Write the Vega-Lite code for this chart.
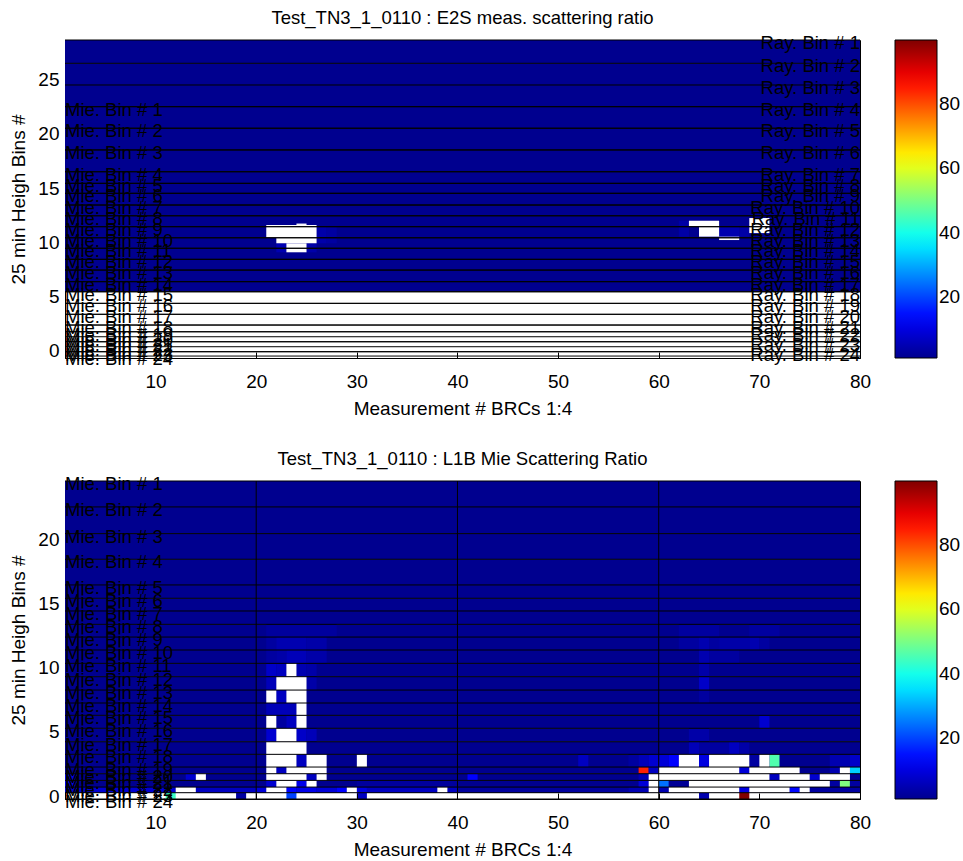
{
"$schema": "https://vega.github.io/schema/vega-lite/v6.json",
"background": "white",
"padding": {"left": 9, "top": 8, "right": 0, "bottom": 0},
"datasets": {
"rayT": [
{"bin":1,"top":28.66,"label":"Ray. Bin # 1"},{"bin":2,"top":26.51,"label":"Ray. Bin # 2"},{"bin":3,"top":24.51,"label":"Ray. Bin # 3"},{"bin":4,"top":22.51,"label":"Ray. Bin # 4"},{"bin":5,"top":20.52,"label":"Ray. Bin # 5"},{"bin":6,"top":18.52,"label":"Ray. Bin # 6"},{"bin":7,"top":16.51,"label":"Ray. Bin # 7"},{"bin":8,"top":15.44,"label":"Ray. Bin # 8"},{"bin":9,"top":14.52,"label":"Ray. Bin # 9"},{"bin":10,"top":13.44,"label":"Ray. Bin # 10"},{"bin":11,"top":12.45,"label":"Ray. Bin # 11"},{"bin":12,"top":11.44,"label":"Ray. Bin # 12"},{"bin":13,"top":10.42,"label":"Ray. Bin # 13"},{"bin":14,"top":9.45,"label":"Ray. Bin # 14"},{"bin":15,"top":8.43,"label":"Ray. Bin # 15"},{"bin":16,"top":7.44,"label":"Ray. Bin # 16"},{"bin":17,"top":6.37,"label":"Ray. Bin # 17"},{"bin":18,"top":5.44,"label":"Ray. Bin # 18"},{"bin":19,"top":4.37,"label":"Ray. Bin # 19"},{"bin":20,"top":3.36,"label":"Ray. Bin # 20"},{"bin":21,"top":2.37,"label":"Ray. Bin # 21"},{"bin":22,"top":1.75,"label":"Ray. Bin # 22"},{"bin":23,"top":0.83,"label":"Ray. Bin # 23"},{"bin":24,"top":-0.09,"label":"Ray. Bin # 24"}
],
"mieT": [
{"bin":1,"top":22.51,"label":"Mie. Bin # 1"},{"bin":2,"top":20.52,"label":"Mie. Bin # 2"},{"bin":3,"top":18.52,"label":"Mie. Bin # 3"},{"bin":4,"top":16.51,"label":"Mie. Bin # 4"},{"bin":5,"top":15.44,"label":"Mie. Bin # 5"},{"bin":6,"top":14.52,"label":"Mie. Bin # 6"},{"bin":7,"top":13.44,"label":"Mie. Bin # 7"},{"bin":8,"top":12.45,"label":"Mie. Bin # 8"},{"bin":9,"top":11.44,"label":"Mie. Bin # 9"},{"bin":10,"top":10.42,"label":"Mie. Bin # 10"},{"bin":11,"top":9.45,"label":"Mie. Bin # 11"},{"bin":12,"top":8.43,"label":"Mie. Bin # 12"},{"bin":13,"top":7.44,"label":"Mie. Bin # 13"},{"bin":14,"top":6.37,"label":"Mie. Bin # 14"},{"bin":15,"top":5.44,"label":"Mie. Bin # 15"},{"bin":16,"top":4.37,"label":"Mie. Bin # 16"},{"bin":17,"top":3.36,"label":"Mie. Bin # 17"},{"bin":18,"top":2.37,"label":"Mie. Bin # 18"},{"bin":19,"top":1.75,"label":"Mie. Bin # 19"},{"bin":20,"top":1.29,"label":"Mie. Bin # 20"},{"bin":21,"top":0.83,"label":"Mie. Bin # 21"},{"bin":22,"top":0.37,"label":"Mie. Bin # 22"},{"bin":23,"top":-0.09,"label":"Mie. Bin # 23"},{"bin":24,"top":-0.49,"label":"Mie. Bin # 24"}
],
"topCells": [
{"top":28.66,"bot":26.51,"m0":1,"m1":80,"v":1},{"top":26.51,"bot":24.51,"m0":1,"m1":80,"v":1},{"top":24.51,"bot":22.51,"m0":1,"m1":80,"v":1},{"top":22.51,"bot":20.52,"m0":1,"m1":80,"v":1},{"top":20.52,"bot":18.52,"m0":1,"m1":80,"v":1},{"top":18.52,"bot":16.51,"m0":1,"m1":80,"v":1},{"top":16.51,"bot":15.44,"m0":1,"m1":80,"v":1},{"top":15.44,"bot":14.52,"m0":1,"m1":80,"v":1},{"top":14.52,"bot":13.44,"m0":1,"m1":80,"v":1},{"top":13.44,"bot":12.45,"m0":1,"m1":80,"v":1},{"top":12.45,"bot":11.44,"m0":1,"m1":80,"v":1},{"top":11.44,"bot":10.42,"m0":1,"m1":80,"v":1},{"top":10.42,"bot":9.45,"m0":1,"m1":80,"v":1},{"top":9.45,"bot":8.43,"m0":1,"m1":80,"v":1},{"top":8.43,"bot":7.44,"m0":1,"m1":80,"v":1},{"top":7.44,"bot":6.37,"m0":1,"m1":80,"v":1},{"top":6.37,"bot":5.44,"m0":1,"m1":80,"v":1},
{"top":11.44,"bot":9.91,"m0":26,"m1":27,"v":4},{"top":11.44,"bot":9.91,"m0":27,"m1":28,"v":3},{"top":9.91,"bot":9.08,"m0":22,"m1":23,"v":5},{"top":9.91,"bot":9.08,"m0":25,"m1":26,"v":4},{"top":11.99,"bot":10.52,"m0":62,"m1":63,"v":3.5},{"top":11.44,"bot":10.52,"m0":66,"m1":68,"v":4.5},{"top":11.44,"bot":10.52,"m0":68,"m1":69,"v":3.5}
],
"topNaN": [
{"top":11.60,"bot":10.40,"m0":21,"m1":26},{"top":10.40,"bot":9.91,"m0":22,"m1":26},{"top":9.91,"bot":9.08,"m0":23,"m1":25},{"top":11.73,"bot":11.60,"m0":24,"m1":25},{"top":11.99,"bot":11.44,"m0":63,"m1":66},{"top":11.44,"bot":10.52,"m0":64,"m1":66},{"top":10.52,"bot":10.21,"m0":66,"m1":68},{"top":12.24,"bot":10.85,"m0":69,"m1":71}
],
"mieB": [
{"bin":1,"top":24.55,"bot":22.53,"label":"Mie. Bin # 1"},{"bin":2,"top":22.53,"bot":20.45,"label":"Mie. Bin # 2"},{"bin":3,"top":20.45,"bot":18.45,"label":"Mie. Bin # 3"},{"bin":4,"top":18.45,"bot":16.45,"label":"Mie. Bin # 4"},{"bin":5,"top":16.45,"bot":15.41,"label":"Mie. Bin # 5"},{"bin":6,"top":15.41,"bot":14.42,"label":"Mie. Bin # 6"},{"bin":7,"top":14.42,"bot":13.38,"label":"Mie. Bin # 7"},{"bin":8,"top":13.38,"bot":12.39,"label":"Mie. Bin # 8"},{"bin":9,"top":12.39,"bot":11.38,"label":"Mie. Bin # 9"},{"bin":10,"top":11.38,"bot":10.34,"label":"Mie. Bin # 10"},{"bin":11,"top":10.34,"bot":9.30,"label":"Mie. Bin # 11"},{"bin":12,"top":9.30,"bot":8.26,"label":"Mie. Bin # 12"},{"bin":13,"top":8.26,"bot":7.25,"label":"Mie. Bin # 13"},{"bin":14,"top":7.25,"bot":6.29,"label":"Mie. Bin # 14"},{"bin":15,"top":6.29,"bot":5.28,"label":"Mie. Bin # 15"},{"bin":16,"top":5.28,"bot":4.23,"label":"Mie. Bin # 16"},{"bin":17,"top":4.23,"bot":3.25,"label":"Mie. Bin # 17"},{"bin":18,"top":3.25,"bot":2.26,"label":"Mie. Bin # 18"},{"bin":19,"top":2.26,"bot":1.74,"label":"Mie. Bin # 19"},{"bin":20,"top":1.74,"bot":1.22,"label":"Mie. Bin # 20"},{"bin":21,"top":1.22,"bot":0.70,"label":"Mie. Bin # 21"},{"bin":22,"top":0.70,"bot":0.26,"label":"Mie. Bin # 22"},{"bin":23,"top":0.26,"bot":-0.23,"label":"Mie. Bin # 23"},{"bin":24,"top":-0.23,"bot":-0.73,"label":"Mie. Bin # 24"}
],
"botCells": [
{"bin":1,"m0":1,"m1":80,"v":1},{"bin":2,"m0":1,"m1":80,"v":1},{"bin":3,"m0":1,"m1":80,"v":1},{"bin":4,"m0":1,"m1":80,"v":1},{"bin":5,"m0":1,"m1":80,"v":1},{"bin":6,"m0":1,"m1":80,"v":1},{"bin":7,"m0":1,"m1":80,"v":1},{"bin":8,"m0":1,"m1":80,"v":1},{"bin":9,"m0":1,"m1":80,"v":1},{"bin":10,"m0":1,"m1":80,"v":1},{"bin":11,"m0":1,"m1":80,"v":1},{"bin":12,"m0":1,"m1":80,"v":1},{"bin":13,"m0":1,"m1":80,"v":1},{"bin":14,"m0":1,"m1":80,"v":1},{"bin":15,"m0":1,"m1":80,"v":1},{"bin":16,"m0":1,"m1":80,"v":1},{"bin":17,"m0":1,"m1":80,"v":1},{"bin":18,"m0":1,"m1":80,"v":1},{"bin":19,"m0":1,"m1":80,"v":1},{"bin":20,"m0":1,"m1":80,"v":1},{"bin":21,"m0":1,"m1":80,"v":1},{"bin":22,"m0":1,"m1":80,"v":1},
{"bin":8,"m0":21,"m1":28,"v":2.5},{"bin":8,"m0":62,"m1":66,"v":2.8},{"bin":8,"m0":69,"m1":72,"v":2.8},
{"bin":9,"m0":21,"m1":22,"v":2.9},{"bin":9,"m0":22,"m1":25,"v":4.6},{"bin":9,"m0":25,"m1":27,"v":3.8},{"bin":9,"m0":62,"m1":64,"v":2.9},{"bin":9,"m0":64,"m1":65,"v":4.6},{"bin":9,"m0":65,"m1":66,"v":2.9},{"bin":9,"m0":66,"m1":69,"v":3.8},{"bin":9,"m0":69,"m1":70,"v":4.6},{"bin":9,"m0":70,"m1":71,"v":2.9},
{"bin":10,"m0":21,"m1":22,"v":2.9},{"bin":10,"m0":22,"m1":23,"v":3.8},{"bin":10,"m0":23,"m1":25,"v":5.5},{"bin":10,"m0":25,"m1":27,"v":3.8},{"bin":10,"m0":64,"m1":65,"v":4.6},{"bin":10,"m0":65,"m1":68,"v":2.9},
{"bin":11,"m0":21,"m1":22,"v":7.3},{"bin":11,"m0":22,"m1":23,"v":6.4},{"bin":11,"m0":24,"m1":25,"v":4.6},{"bin":11,"m0":25,"m1":26,"v":3.8},{"bin":11,"m0":64,"m1":65,"v":3.8},
{"bin":12,"m0":21,"m1":22,"v":5.5},{"bin":12,"m0":25,"m1":26,"v":3.8},{"bin":12,"m0":64,"m1":65,"v":7.3},
{"bin":13,"m0":22,"m1":23,"v":6.4},{"bin":13,"m0":64,"m1":65,"v":2.9},
{"bin":14,"m0":21,"m1":24,"v":5.5},
{"bin":15,"m0":22,"m1":23,"v":2.9},{"bin":15,"m0":23,"m1":24,"v":6.4},{"bin":15,"m0":70,"m1":71,"v":8.2},
{"bin":16,"m0":21,"m1":22,"v":8.2},{"bin":16,"m0":24,"m1":25,"v":7.3},{"bin":16,"m0":25,"m1":26,"v":5.5},{"bin":16,"m0":63,"m1":65,"v":3.8},
{"bin":17,"m0":63,"m1":64,"v":5.5},{"bin":17,"m0":64,"m1":67,"v":2.9},{"bin":17,"m0":67,"m1":68,"v":6.4},{"bin":17,"m0":68,"m1":69,"v":3.8},
{"bin":18,"m0":24,"m1":25,"v":6.4},{"bin":18,"m0":52,"m1":53,"v":6.4},{"bin":18,"m0":57,"m1":58,"v":2.9},{"bin":18,"m0":58,"m1":59,"v":5.5},{"bin":18,"m0":59,"m1":60,"v":8.2},{"bin":18,"m0":60,"m1":61,"v":9},{"bin":18,"m0":61,"m1":62,"v":13.4},{"bin":18,"m0":64,"m1":65,"v":10},{"bin":18,"m0":69,"m1":70,"v":2.9},{"bin":18,"m0":71,"m1":72,"v":46},{"bin":18,"m0":77,"m1":79,"v":4.6},{"bin":18,"m0":79,"m1":80,"v":7.3},
{"bin":19,"m0":22,"m1":23,"v":6.4},{"bin":19,"m0":58,"m1":59,"v":84.5},{"bin":19,"m0":59,"m1":60,"v":6.4},{"bin":19,"m0":68,"m1":69,"v":9},{"bin":19,"m0":77,"m1":78,"v":4.6},{"bin":19,"m0":79,"m1":80,"v":33.6},
{"bin":20,"m0":1,"m1":2,"v":10},{"bin":20,"m0":13,"m1":14,"v":8.2},{"bin":20,"m0":25,"m1":26,"v":6.4},{"bin":20,"m0":41,"m1":42,"v":13.4},{"bin":20,"m0":58,"m1":59,"v":5},{"bin":20,"m0":71,"m1":72,"v":6.4},{"bin":20,"m0":75,"m1":76,"v":8.2},
{"bin":21,"m0":1,"m1":2,"v":12},{"bin":21,"m0":21,"m1":22,"v":8.2},{"bin":21,"m0":24,"m1":25,"v":11},{"bin":21,"m0":30,"m1":40,"v":2.5},{"bin":21,"m0":58,"m1":59,"v":9},{"bin":21,"m0":60,"m1":61,"v":24.3},{"bin":21,"m0":61,"m1":63,"v":1.8},{"bin":21,"m0":77,"m1":78,"v":2.9},{"bin":21,"m0":78,"m1":79,"v":50.5},{"bin":21,"m0":79,"m1":80,"v":2.9},
{"bin":22,"m0":1,"m1":12,"v":8.2},{"bin":22,"m0":14,"m1":20,"v":6.4},{"bin":22,"m0":20,"m1":21,"v":9},{"bin":22,"m0":23,"m1":24,"v":13.4},{"bin":22,"m0":24,"m1":26,"v":11},{"bin":22,"m0":26,"m1":28,"v":9},{"bin":22,"m0":28,"m1":29,"v":13.4},{"bin":22,"m0":30,"m1":31,"v":10},{"bin":22,"m0":31,"m1":38,"v":6.4},{"bin":22,"m0":39,"m1":40,"v":6.4},{"bin":22,"m0":40,"m1":57,"v":2.5},{"bin":22,"m0":57,"m1":59,"v":5},{"bin":22,"m0":60,"m1":61,"v":4.6},{"bin":22,"m0":68,"m1":69,"v":10},{"bin":22,"m0":73,"m1":74,"v":14},{"bin":22,"m0":75,"m1":80,"v":2.9},
{"bin":23,"m0":11,"m1":12,"v":44},{"bin":23,"m0":18,"m1":19,"v":2.9},{"bin":23,"m0":23,"m1":24,"v":19.6},{"bin":23,"m0":30,"m1":31,"v":6.4},{"bin":23,"m0":64,"m1":65,"v":4.6},{"bin":23,"m0":68,"m1":69,"v":100}
],
"botNaN": [
{"bin":11,"m0":23,"m1":24},{"bin":12,"m0":22,"m1":25},{"bin":13,"m0":21,"m1":22},{"bin":13,"m0":23,"m1":25},{"bin":14,"m0":24,"m1":25},{"bin":15,"m0":21,"m1":22},{"bin":15,"m0":24,"m1":25},{"bin":16,"m0":22,"m1":24},{"bin":17,"m0":21,"m1":25},
{"bin":18,"m0":21,"m1":24},{"bin":18,"m0":25,"m1":27},{"bin":18,"m0":30,"m1":31},{"bin":18,"m0":62,"m1":64},{"bin":18,"m0":65,"m1":69},{"bin":18,"m0":70,"m1":71},
{"bin":19,"m0":21,"m1":22},{"bin":19,"m0":23,"m1":27},{"bin":19,"m0":60,"m1":68},{"bin":19,"m0":69,"m1":74},{"bin":19,"m0":78,"m1":79},
{"bin":20,"m0":14,"m1":15},{"bin":20,"m0":21,"m1":25},{"bin":20,"m0":26,"m1":27},{"bin":20,"m0":59,"m1":71},{"bin":20,"m0":72,"m1":75},{"bin":20,"m0":76,"m1":79},
{"bin":21,"m0":22,"m1":24},{"bin":21,"m0":25,"m1":26},{"bin":21,"m0":59,"m1":60},{"bin":21,"m0":63,"m1":77},
{"bin":22,"m0":12,"m1":14},{"bin":22,"m0":21,"m1":23},{"bin":22,"m0":29,"m1":30},{"bin":22,"m0":38,"m1":39},{"bin":22,"m0":59,"m1":60},{"bin":22,"m0":61,"m1":68},{"bin":22,"m0":69,"m1":73},{"bin":22,"m0":74,"m1":75}
],
"vlines": [{"m0":20},{"m0":40},{"m0":60}]
},
"vconcat": [
{
"title": {"text": "Test_TN3_1_0110 : E2S meas. scattering ratio"},
"width": 795, "height": 318,
"layer": [
{"data": {"name": "topCells"}, "mark": {"type": "rect"},
 "encoding": {
  "x": {"field": "m0", "type": "quantitative", "title": "Measurement # BRCs 1:4", "scale": {"domain": [1, 80], "nice": false, "zero": false}, "axis": {"values": [10,20,30,40,50,60,70,80], "labelFlush": false, "zindex": 1}},
  "x2": {"field": "m1"},
  "y": {"field": "top", "type": "quantitative", "title": "25 min Heigh Bins #", "scale": {"domain": [-0.67, 28.66], "nice": false, "zero": false}, "axis": {"values": [0,5,10,15,20,25]}},
  "y2": {"field": "bot"},
  "color": {"field": "v", "type": "quantitative", "scale": {"type": "linear", "domain": [1, 13.4, 38.1, 62.9, 87.6, 100], "range": ["#00008f", "#0000ff", "#00ffff", "#ffff00", "#ff0000", "#800000"], "interpolate": "rgb"}, "legend": {"title": null, "values": [20,40,60,80], "orient": "right"}}
 }},
{"data": {"name": "topNaN"}, "mark": {"type": "rect", "fill": "white"},
 "encoding": {
  "x": {"field": "m0", "type": "quantitative", "title": "Measurement # BRCs 1:4", "scale": {"domain": [1, 80], "nice": false, "zero": false}, "axis": {"values": [10,20,30,40,50,60,70,80], "labelFlush": false, "zindex": 1}},
  "x2": {"field": "m1"},
  "y": {"field": "top", "type": "quantitative", "title": "25 min Heigh Bins #", "scale": {"domain": [-0.67, 28.66], "nice": false, "zero": false}, "axis": {"values": [0,5,10,15,20,25]}},
  "y2": {"field": "bot"}
 }},
{"data": {"name": "rayT"}, "mark": {"type": "rule", "color": "#000", "strokeWidth": 1},
 "encoding": {"y": {"field": "top", "type": "quantitative", "title": "25 min Heigh Bins #", "scale": {"domain": [-0.67, 28.66], "nice": false, "zero": false}, "axis": {"values": [0,5,10,15,20,25]}}}},
{"data": {"name": "mieT"}, "mark": {"type": "rule", "color": "#000", "strokeWidth": 1},
 "encoding": {"y": {"field": "top", "type": "quantitative", "title": "25 min Heigh Bins #", "scale": {"domain": [-0.67, 28.66], "nice": false, "zero": false}, "axis": {"values": [0,5,10,15,20,25]}}}},
{"data": {"name": "mieT"}, "mark": {"type": "text", "align": "left", "baseline": "middle", "dy": 3, "fontSize": 18.5, "color": "#000"},
 "encoding": {
  "x": {"datum": 1, "type": "quantitative", "scale": {"domain": [1, 80], "nice": false, "zero": false}, "axis": {"values": [10,20,30,40,50,60,70,80], "labelFlush": false, "zindex": 1}},
  "y": {"field": "top", "type": "quantitative", "title": "25 min Heigh Bins #", "scale": {"domain": [-0.67, 28.66], "nice": false, "zero": false}, "axis": {"values": [0,5,10,15,20,25]}},
  "text": {"field": "label"}
 }},
{"data": {"name": "rayT"}, "mark": {"type": "text", "align": "right", "baseline": "middle", "dy": 3, "fontSize": 18.5, "color": "#000"},
 "encoding": {
  "x": {"datum": 80, "type": "quantitative", "scale": {"domain": [1, 80], "nice": false, "zero": false}, "axis": {"values": [10,20,30,40,50,60,70,80], "labelFlush": false, "zindex": 1}},
  "y": {"field": "top", "type": "quantitative", "title": "25 min Heigh Bins #", "scale": {"domain": [-0.67, 28.66], "nice": false, "zero": false}, "axis": {"values": [0,5,10,15,20,25]}},
  "text": {"field": "label"}
 }}
]
},
{
"title": {"text": "Test_TN3_1_0110 : L1B Mie Scattering Ratio"},
"width": 795, "height": 318,
"layer": [
{"data": {"name": "botCells"}, "transform": [{"lookup": "bin", "from": {"data": {"name": "mieB"}, "key": "bin", "fields": ["top", "bot"]}}], "mark": {"type": "rect"},
 "encoding": {
  "x": {"field": "m0", "type": "quantitative", "title": "Measurement # BRCs 1:4", "scale": {"domain": [1, 80], "nice": false, "zero": false}, "axis": {"values": [10,20,30,40,50,60,70,80], "labelFlush": false, "zindex": 1}},
  "x2": {"field": "m1"},
  "y": {"field": "top", "type": "quantitative", "title": "25 min Heigh Bins #", "scale": {"domain": [-0.23, 24.55], "nice": false, "zero": false}, "axis": {"values": [0,5,10,15,20]}},
  "y2": {"field": "bot"},
  "color": {"field": "v", "type": "quantitative", "scale": {"type": "linear", "domain": [1, 13.4, 38.1, 62.9, 87.6, 100], "range": ["#00008f", "#0000ff", "#00ffff", "#ffff00", "#ff0000", "#800000"], "interpolate": "rgb"}, "legend": {"title": null, "values": [20,40,60,80], "orient": "right"}}
 }},
{"data": {"name": "botNaN"}, "transform": [{"lookup": "bin", "from": {"data": {"name": "mieB"}, "key": "bin", "fields": ["top", "bot"]}}], "mark": {"type": "rect", "fill": "white"},
 "encoding": {
  "x": {"field": "m0", "type": "quantitative", "title": "Measurement # BRCs 1:4", "scale": {"domain": [1, 80], "nice": false, "zero": false}, "axis": {"values": [10,20,30,40,50,60,70,80], "labelFlush": false, "zindex": 1}},
  "x2": {"field": "m1"},
  "y": {"field": "top", "type": "quantitative", "title": "25 min Heigh Bins #", "scale": {"domain": [-0.23, 24.55], "nice": false, "zero": false}, "axis": {"values": [0,5,10,15,20]}},
  "y2": {"field": "bot"}
 }},
{"data": {"name": "mieB"}, "mark": {"type": "rule", "color": "#000", "strokeWidth": 1},
 "encoding": {"y": {"field": "top", "type": "quantitative", "title": "25 min Heigh Bins #", "scale": {"domain": [-0.23, 24.55], "nice": false, "zero": false}, "axis": {"values": [0,5,10,15,20]}}}},
{"data": {"name": "vlines"}, "mark": {"type": "rule", "color": "#000", "strokeWidth": 1},
 "encoding": {"x": {"field": "m0", "type": "quantitative", "title": "Measurement # BRCs 1:4", "scale": {"domain": [1, 80], "nice": false, "zero": false}, "axis": {"values": [10,20,30,40,50,60,70,80], "labelFlush": false, "zindex": 1}}}},
{"data": {"name": "mieB"}, "mark": {"type": "text", "align": "left", "baseline": "middle", "dy": 3, "fontSize": 18.5, "color": "#000"},
 "encoding": {
  "x": {"datum": 1, "type": "quantitative", "scale": {"domain": [1, 80], "nice": false, "zero": false}, "axis": {"values": [10,20,30,40,50,60,70,80], "labelFlush": false, "zindex": 1}},
  "y": {"field": "top", "type": "quantitative", "title": "25 min Heigh Bins #", "scale": {"domain": [-0.23, 24.55], "nice": false, "zero": false}, "axis": {"values": [0,5,10,15,20]}},
  "text": {"field": "label"}
 }}
]
}
],
"spacing": 30,
"resolve": {"scale": {"color": "independent", "x": "independent", "y": "independent"}, "legend": {"color": "independent"}},
"config": {
 "font": "Liberation Sans",
 "view": {"stroke": "#000", "strokeWidth": 1},
 "axis": {"grid": false, "labelFontSize": 19, "titleFontSize": 19, "titleFontWeight": "normal", "labelColor": "#000", "titleColor": "#000", "domainColor": "#000", "tickColor": "#000"},
 "axisX": {"tickSize": -6, "labelPadding": 20, "titlePadding": 8},
 "axisY": {"ticks": false, "labelPadding": 6, "titlePadding": 9},
 "title": {"fontSize": 18.5, "fontWeight": "normal", "color": "#000", "offset": 7},
 "legend": {"gradientLength": 318, "gradientThickness": 42, "gradientStrokeColor": "#000", "gradientStrokeWidth": 1, "labelFontSize": 19, "labelColor": "#000", "labelOffset": 6, "offset": 35, "padding": 0, "labelOverlap": false}
}
}
